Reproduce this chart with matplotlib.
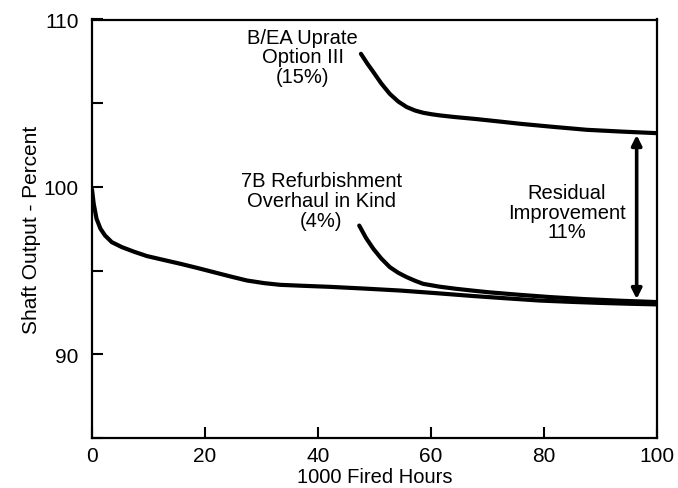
import numpy as np
import matplotlib.pyplot as plt

plt.rcParams['font.family'] = ['Liberation Sans', 'DejaVu Sans']

# baseline degradation curve
base_x = [0, 0.3, 0.8, 1.5, 2.3, 3.5, 5.3, 7.5, 9.7, 12.5, 15.6, 18.5, 21.5, 24.5, 27.4,
          30.5, 33.3, 37.5, 42.1, 48, 54.5, 61, 67.5, 73.5, 79.3, 85, 90, 95, 100]
base_y = [99.85, 99.0, 98.1, 97.5, 97.1, 96.7, 96.4, 96.12, 95.87, 95.65, 95.41, 95.17, 94.91,
          94.65, 94.41, 94.25, 94.15, 94.09, 94.03, 93.93, 93.81, 93.65, 93.48, 93.34, 93.21,
          93.13, 93.07, 93.02, 92.98]

# B/EA uprate option III
uprate_x = [47.6, 48.7, 49.8, 51.2, 52.7, 54.2, 55.7, 57.2, 58.6, 60.1, 61.6, 64, 68.1,
            72, 75.8, 81.5, 87.6, 94, 100]
uprate_y = [107.95, 107.38, 106.86, 106.18, 105.56, 105.1, 104.77, 104.56, 104.43, 104.34,
            104.27, 104.18, 104.05, 103.91, 103.77, 103.59, 103.41, 103.3, 103.21]

# 7B refurbishment
refurb_x = [47.3, 48.5, 49.8, 51.2, 52.7, 54.2, 55.7, 57.2, 58.6, 61.5, 64.5, 67.5, 70.4,
            75.8, 81, 87, 93.5, 100]
refurb_y = [97.69, 96.95, 96.3, 95.72, 95.21, 94.87, 94.61, 94.39, 94.21, 94.04, 93.91,
            93.8, 93.7, 93.55, 93.42, 93.3, 93.2, 93.12]

arrow_x = 96.4
arrow_top = 103.1
arrow_bottom = 93.3

fig = plt.figure(figsize=(6.78, 4.89), dpi=100)
ax = fig.add_axes([92 / 678, 1 - 439 / 489, 565 / 678, 418.5 / 489])

lw = 3
for xs, ys in [(base_x, base_y), (uprate_x, uprate_y), (refurb_x, refurb_y)]:
    ax.plot(xs, ys, color='black', lw=lw, solid_capstyle='round', solid_joinstyle='round')

ax.annotate('', xy=(arrow_x, arrow_top), xytext=(arrow_x, arrow_bottom),
            arrowprops=dict(arrowstyle='<|-|>', color='black', lw=2.6,
                            mutation_scale=15, shrinkA=0, shrinkB=0))

fs = 14.5
ax.text(37.3, 107.77, 'B/EA Uprate\nOption III\n(15%)', ha='center', va='center',
        fontsize=fs, linespacing=1.05)
ax.text(40.6, 99.19, '7B Refurbishment\nOverhaul in Kind\n(4%)', ha='center', va='center',
        fontsize=fs, linespacing=1.05)
ax.text(84.0, 98.5, 'Residual\nImprovement\n11%', ha='center', va='center',
        fontsize=fs, linespacing=1.05)

ax.set_xlim(0, 100)
ax.set_ylim(85, 110)
ax.set_xticks([0, 20, 40, 60, 80, 100])
ax.set_yticks([85, 90, 95, 100, 105, 110])
ax.set_yticklabels(['', '90', '', '100', '', '110'])
ax.tick_params(direction='in', length=8, width=1.5, labelsize=15, pad=9.5)
ax.tick_params(axis='x', pad=5.5)
for s in ax.spines.values():
    s.set_linewidth(1.6)

ax.set_xlabel('1000 Fired Hours', fontsize=14.5, labelpad=2)
ax.set_ylabel('Shaft Output - Percent', fontsize=15, labelpad=2)

fig.savefig('out.png', dpi=100)
